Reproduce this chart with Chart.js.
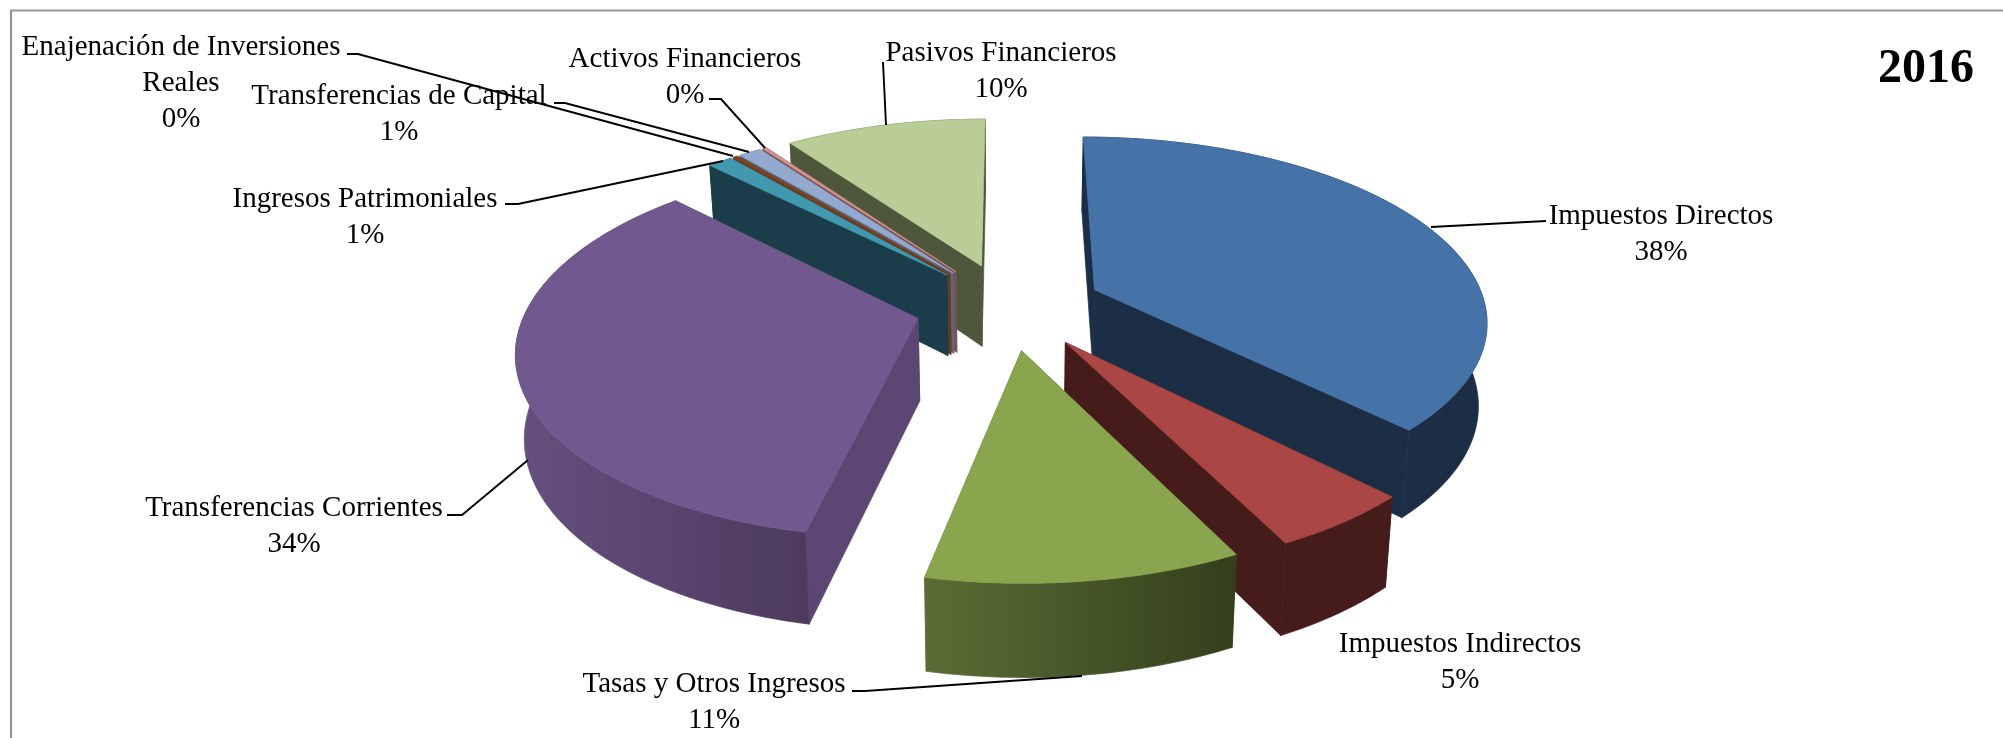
<!DOCTYPE html>
<html><head><meta charset="utf-8">
<style>html,body{margin:0;padding:0;background:#fff}canvas{display:block}</style>
<script src="https://cdn.jsdelivr.net/npm/chart.js@4"></script></head>
<body><canvas id="c" width="2003" height="738"></canvas>
<script>
const categories = ["Impuestos Directos","Impuestos Indirectos","Tasas y Otros Ingresos","Transferencias Corrientes","Ingresos Patrimoniales","Enajenación de Inversiones Reales","Transferencias de Capital","Activos Financieros","Pasivos Financieros"];
const shares = [37.6,5.0,10.7,34.2,1.2,0.2,1.1,0.2,9.8];
const chartYear = "2016";
const topColors = ["#4572A7","#AA4643","#89A54E","#71588F","#4198AF","#7A4522","#93A9CF","#D19392","#B9CD96"];
const wallColors = ["#1B2E46","#451C1A","#4A5A2B","#5C4673","#1A3D49","#6A3A1E","#5A6880","#7A5450","#4E563C"];
const outerLeft = ["#1B2E46","#451C1A","#5B6D35","#65507F","#1A3D49","#6A3A1E","#5A6880","#7A5450","#4E563C"];
const outerRight = ["#1B2E46","#451C1A","#333F1C","#4D3A5E","#1A3D49","#6A3A1E","#5A6880","#7A5450","#4E563C"];
const labelLines = [["Impuestos Directos"],["Impuestos Indirectos"],["Tasas y Otros Ingresos"],["Transferencias Corrientes"],["Ingresos Patrimoniales"],["Enajenación de Inversiones","Reales"],["Transferencias de Capital"],["Activos Financieros"],["Pasivos Financieros"]];
const labelCenterX = [1661,1460,714,294,365,181,399,685,1001];
const labelFirstY = [216,644,684,508,199,47,96,59,53];
const lineGap = 36;
const leaders = [
 [[1546,221],[1431,227]],
 [],
 [[852,691],[865,691],[1082,676]],
 [[447,515],[462,515],[528,460]],
 [[505,204],[518,204],[723,161]],
 [[347,54],[358,54],[733,156]],
 [[554,103],[565,103],[749,152]],
 [[709,99],[721,99],[765,148]],
 [[883,62],[886,125]]
];
const view = {explode:.24,sx:391,sy:181,persp:.155,bottomX:.982,bottomY:1.044,depth:82};
const labelFont = '29px "Liberation Serif"';

const pie3d = {
 id:'pie3d',
 beforeDatasetDraw(chart){
  const ctx = chart.ctx, arcs = chart.getDatasetMeta(0).data;
  const proj = (el,wx,wy)=>{const w=1-view.persp*wy;return [el.x+view.sx*wx/w, el.y+view.sy*wy/w];};
  const low = (el,p)=>[el.x+(p[0]-el.x)*view.bottomX, el.y+(p[1]-el.y)*view.bottomY+view.depth];
  const poly = (pts,fill)=>{ctx.beginPath();pts.forEach((p,i)=>i?ctx.lineTo(p[0],p[1]):ctx.moveTo(p[0],p[1]));ctx.closePath();ctx.fillStyle=fill;ctx.strokeStyle=fill;ctx.lineWidth=.7;ctx.fill();ctx.stroke();};
  const items = arcs.map((el,i)=>{const mid=(el.startAngle+el.endAngle)/2;
    return {el,i,ox:view.explode*Math.cos(mid),oy:view.explode*Math.sin(mid)};}).sort((a,b)=>a.oy-b.oy);
  items.forEach(({el,i,ox,oy})=>{
   const n=Math.max(2,Math.ceil((el.endAngle-el.startAngle)/0.02));
   const rim=[];
   for(let s=0;s<=n;s++){const a=el.startAngle+(el.endAngle-el.startAngle)*s/n;rim.push(proj(el,ox+Math.cos(a),oy+Math.sin(a)));}
   const apex=proj(el,ox,oy), rimLow=rim.map(p=>low(el,p)), apexLow=low(el,apex);
   poly([apex,rim[0],rimLow[0],apexLow],wallColors[i]);
   poly([apex,rim[n],rimLow[n],apexLow],wallColors[i]);
   const xs=rim.map(p=>p[0]);
   const g=ctx.createLinearGradient(Math.min(...xs),0,Math.max(...xs),0);
   g.addColorStop(0,outerLeft[i]);g.addColorStop(1,outerRight[i]);
   poly(rim.concat(rimLow.slice().reverse()),g);
   poly([apex].concat(rim),topColors[i]);
  });
  return false;
 },
 afterDraw(chart){
  const ctx=chart.ctx;
  ctx.save();
  ctx.strokeStyle='#969696';ctx.lineWidth=2.2;
  ctx.beginPath();ctx.moveTo(11,738);ctx.lineTo(11,10.5);ctx.lineTo(2003,10.5);ctx.stroke();
  ctx.strokeStyle='#000';ctx.lineWidth=1.9;
  leaders.forEach(l=>{if(!l.length)return;ctx.beginPath();l.forEach((p,i)=>i?ctx.lineTo(p[0],p[1]):ctx.moveTo(p[0],p[1]));ctx.stroke();});
  ctx.fillStyle='#000';ctx.textAlign='center';ctx.textBaseline='middle';ctx.font=labelFont;
  const total=shares.reduce((a,b)=>a+b,0);
  labelLines.forEach((lines,i)=>{
   const all=lines.concat([Math.round(shares[i]/total*100)+'%']);
   all.forEach((t,j)=>ctx.fillText(t,labelCenterX[i],labelFirstY[i]+j*lineGap));
  });
  ctx.font='bold 48px "Liberation Serif"';
  ctx.fillText(chartYear,1926,70);
  ctx.restore();
 }
};
new Chart(document.getElementById('c'),{
 type:'pie',
 data:{labels:categories,datasets:[{data:shares,backgroundColor:topColors,borderWidth:0}]},
 options:{responsive:false,animation:false,layout:{padding:{left:15,bottom:126}},
  plugins:{legend:{display:false},tooltip:{enabled:false}}},
 plugins:[pie3d]
});
</script></body></html>
